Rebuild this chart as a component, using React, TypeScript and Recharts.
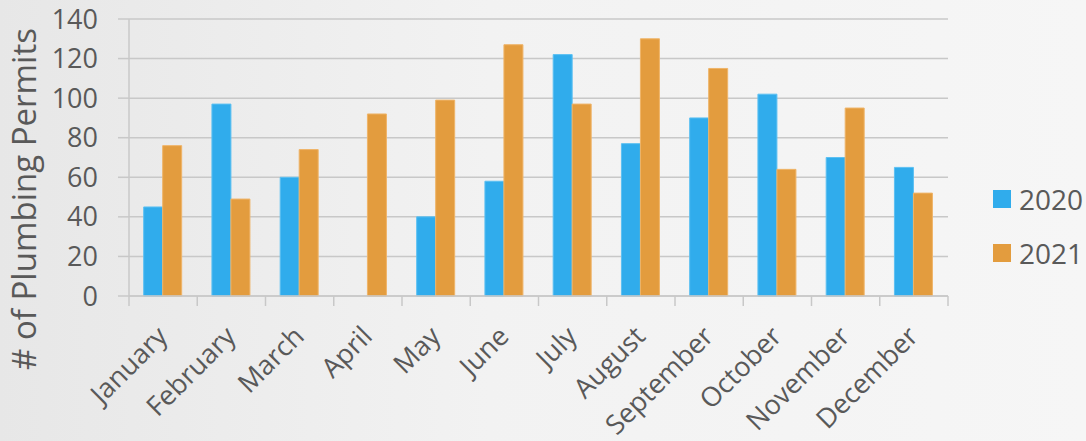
import React from "react";
import {
  BarChart,
  Bar,
  XAxis,
  YAxis,
  CartesianGrid,
  Legend,
} from "recharts";

// Monthly plumbing permits, 2020 vs 2021
const months = [
  "January", "February", "March", "April", "May", "June",
  "July", "August", "September", "October", "November", "December",
];
const permits2020 = [45, 97, 60, null, 40, 58, 122, 77, 90, 102, 70, 65];
const permits2021 = [76, 49, 74, 92, 99, 127, 97, 130, 115, 64, 95, 52];
const yTicks = [0, 20, 40, 60, 80, 100, 120, 140];

const data = months.map((m, i) => ({
  month: m,
  y2020: permits2020[i],
  y2021: permits2021[i],
}));

const W = 1086;
const H = 441;
const MARGIN = { top: 19, right: 138, bottom: 0, left: 0 };
const Y_AXIS_W = 129;
const X_AXIS_H = 145;
const BAND = (W - MARGIN.right - Y_AXIS_W) / months.length;

const GRID = "#c8c8c8";
const TEXT = "#595959";
const FONT = "'Open Sans', 'Noto Sans', sans-serif";

function MonthTick(props: any) {
  const { x, y, payload, index } = props;
  const half = BAND / 2;
  return (
    <g>
      <line x1={x - half} x2={x - half} y1={y} y2={y + 10} stroke={GRID} strokeWidth={1.5} />
      {index === months.length - 1 && (
        <line x1={x + half} x2={x + half} y1={y} y2={y + 10} stroke={GRID} strokeWidth={1.5} />
      )}
      <text
        transform={`translate(${x + 6},${y + 42}) rotate(-45)`}
        textAnchor="end"
        fill={TEXT}
        fontSize={27}
        fontFamily={FONT}
      >
        {payload.value}
      </text>
    </g>
  );
}

function LegendBox(props: any) {
  const { payload } = props;
  return (
    <div style={{ fontFamily: FONT }}>
      {(payload || []).map((p: any) => (
        <div key={p.value} style={{ display: "flex", alignItems: "center", height: 54 }}>
          <span style={{ width: 18, height: 18, background: p.color, marginRight: 8 }} />
          <span style={{ fontSize: 28, color: TEXT }}>{p.value}</span>
        </div>
      ))}
    </div>
  );
}

export default function App() {
  return (
    <div
      style={{
        position: "absolute",
        left: 0,
        top: 0,
        width: W,
        height: H,
        background: "linear-gradient(90deg, #e7e7e7 0%, #f2f2f2 45%, #f6f6f6 100%)",
      }}
    >
      <BarChart
        width={W}
        height={H}
        data={data}
        margin={MARGIN}
        barGap={0}
        barCategoryGap="21.5%"
      >
        <CartesianGrid vertical={false} stroke={GRID} strokeWidth={1.5} />
        <XAxis
          dataKey="month"
          height={X_AXIS_H}
          interval={0}
          axisLine={{ stroke: GRID, strokeWidth: 1.5 }}
          tickLine={false}
          tickSize={0}
          tickMargin={0}
          tick={<MonthTick />}
        />
        <YAxis
          width={Y_AXIS_W}
          domain={[0, 140]}
          ticks={yTicks}
          interval={0}
          axisLine={{ stroke: GRID, strokeWidth: 1.5 }}
          tickLine={{ stroke: GRID, strokeWidth: 1.5 }}
          tickSize={11}
          tickMargin={20}
          tick={{ fill: TEXT, fontSize: 27, fontFamily: FONT }}
          label={{
            content: () => (
              <text
                transform="translate(36,199) rotate(-90)"
                textAnchor="middle"
                fill={TEXT}
                fontSize={33}
                fontFamily={FONT}
              >
                # of Plumbing Permits
              </text>
            ),
          }}
        />
        <Legend
          layout="horizontal"
          verticalAlign="middle"
          content={<LegendBox />}
          wrapperStyle={{ position: "absolute", left: 993, top: 172, width: 93 }}
        />
        <Bar
          dataKey="y2020"
          name="2020"
          fill="#30ACEC"
          stroke="#5cc0f2"
          strokeWidth={1}
          isAnimationActive={false}
        />
        <Bar
          dataKey="y2021"
          name="2021"
          fill="#E39C3E"
          stroke="#efb468"
          strokeWidth={1}
          isAnimationActive={false}
        />
      </BarChart>
    </div>
  );
}
